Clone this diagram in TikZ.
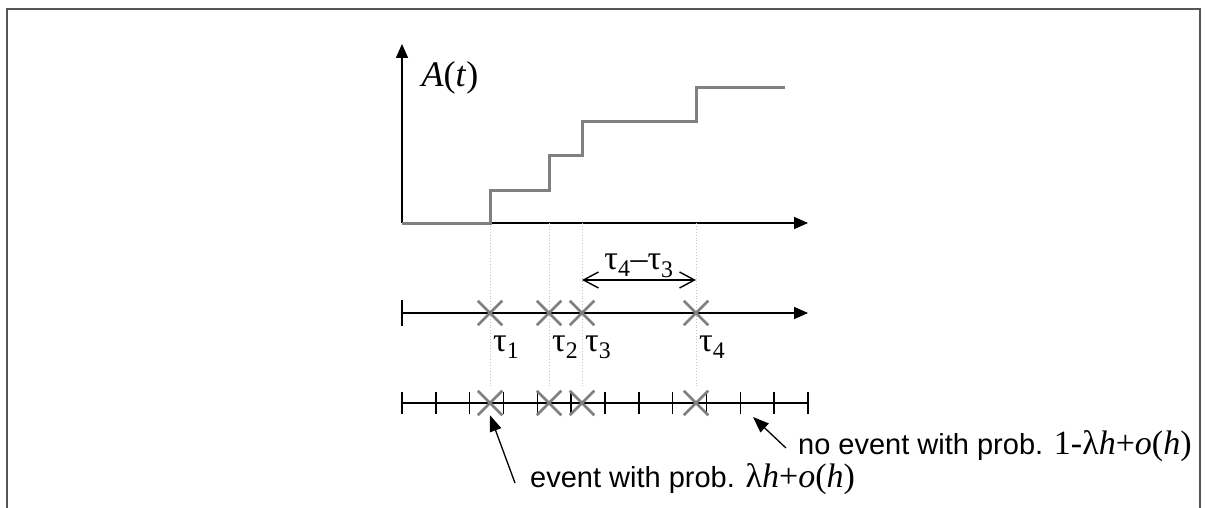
\documentclass[tikz,border=0pt]{standalone}
\usepackage{fontspec}
\setmainfont{Liberation Serif}
\setsansfont{Liberation Sans}
\usetikzlibrary{arrows.meta,positioning,calc,shapes.misc}
\definecolor{StepGray}{HTML}{808080}
\definecolor{DotGray}{HTML}{C4C4C4}
\definecolor{FrameGray}{HTML}{555555}
\newcommand{\tauof}[1]{τ\textsubscript{#1}}
\newcommand{\probpart}[1]{{\rmfamily\fontsize{34}{38}\selectfont #1}}

\begin{document}
\begin{tikzpicture}[x=1pt,y=-1pt,
axis/.style={line width=1.5pt,-{Triangle[length=14pt,width=12pt]}},
stepline/.style={StepGray,line width=3pt},
guide/.style={DotGray,dotted,line width=0.9pt},
evx/.style={cross out,draw=StepGray,line width=2.5pt,minimum size=22pt,inner sep=0pt},
tlab/.style={font=\fontsize{34}{38}\selectfont,inner sep=0pt},
dim/.style={line width=1.4pt,{Straight Barb[length=15pt,width=16pt]}-{Straight Barb[length=15pt,width=16pt]}},
note/.style={font=\sffamily\fontsize{29}{34}\selectfont,inner sep=0pt},
pointer/.style={line width=1.3pt,-{Triangle[length=16pt,width=12pt]}}]
\useasboundingbox (0,0) rectangle (1205,508);
\draw[FrameGray,line width=2pt] (7,508) |- (1200,9) -- (1200,508);
% axes of A(t)
\coordinate (O) at (402,223);
\draw[axis] (O) -- (402,44);
\draw[axis] (O) -- (808,223);
\node[font=\fontsize{36}{40}\selectfont,inner sep=0pt] (At) at (450,78) {\textit{A}(\textit{t})};
% guides from the jumps
\foreach \x in {490,549,582,696}
  \draw[guide] (\x,223) -- (\x,388);
\draw[stepline] (O) -- (490,223) |- (549,190) |- (582,156) |- (696,122) |- (785,88);
% event times
\draw[line width=1.5pt] (402,300) -- (402,326);
\draw[axis] (402,313) -- (808,313);
\foreach \x/\n in {490/1,549/2,582/3,696/4} {
  \node[evx] (c\n) at (\x,313) {};
  \node[tlab,anchor=base west] (l\n) at (\x+3,351) {\tauof{\n}};
}
\draw[dim] ($(c3)+(0,-33)$) -- node[above=2pt,tlab] (gap) {\tauof{4}\textendash\tauof{3}} ($(c4)+(0,-33)$);
% slotted line
\draw[line width=1.5pt] (402,403) -- (808,403);
\foreach \i in {0,...,12}
  \draw[line width=1.5pt] (402+\i*33.833,392) -- (402+\i*33.833,414);
\foreach \x/\n in {490/1,549/2,582/3,696/4}
  \node[evx] (d\n) at (\x,403) {};
% notes
\node[note,anchor=base west] (ev) at (530,487) {event with prob. \probpart{λ\textit{h}+\textit{o}(\textit{h})}};
\node[note,anchor=base west] (noev) at (798,454) {no event with prob. \probpart{1-λ\textit{h}+\textit{o}(\textit{h})}};
\coordinate (evtail) at (515,483);
\coordinate (noevtail) at (786,448);
\coordinate (noevtip) at (753,417);
\draw[pointer] (evtail) -- (d1.south);
\draw[pointer] (noevtail) -- (noevtip);
\end{tikzpicture}
\end{document}
